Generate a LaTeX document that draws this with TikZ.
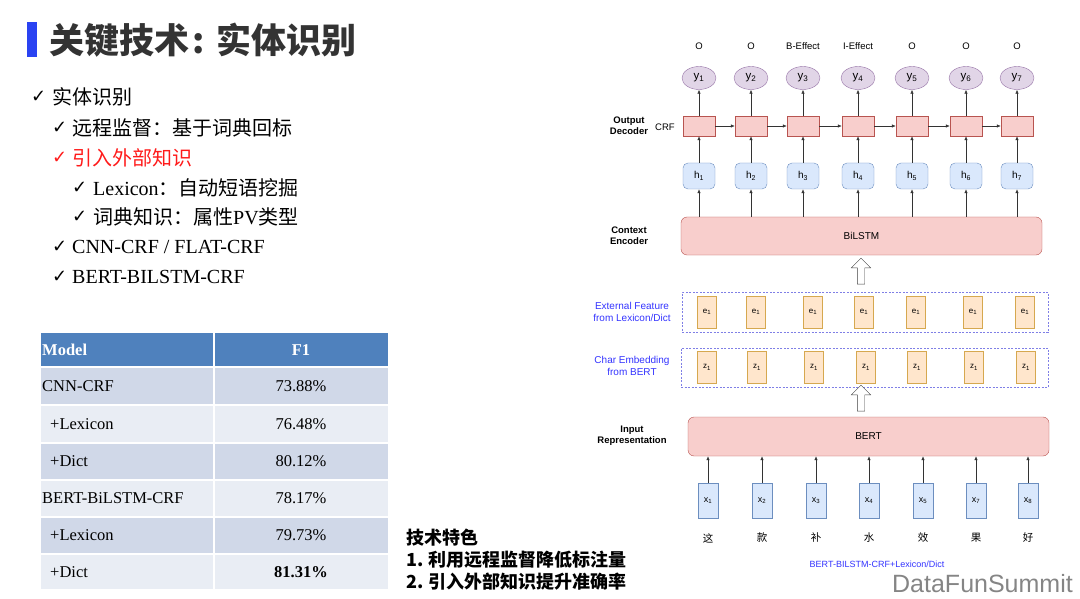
\documentclass[tikz,border=0pt]{standalone}
\usepackage{fontspec}
\setmainfont{Liberation Serif}
\newfontfamily\zhfont{Noto Sans CJK SC}
\newfontfamily\hfont{Liberation Sans}
\newfontfamily\symfont{DejaVu Sans}
\usetikzlibrary{arrows.meta, positioning, shapes.geometric, shapes.arrows}

\definecolor{barblue}{HTML}{2A43F2}
\definecolor{titlegray}{HTML}{333333}
\definecolor{hotred}{HTML}{FF1A1A}
\definecolor{headc}{HTML}{4F81BD}
\definecolor{rowa}{HTML}{D0D8E8}
\definecolor{rowb}{HTML}{E9EDF4}
\definecolor{yfill}{HTML}{E1D5E7}
\definecolor{ybd}{HTML}{9673A6}
\definecolor{crffill}{HTML}{F8CECC}
\definecolor{crfbd}{HTML}{B85450}
\definecolor{hfill}{HTML}{DAE8FC}
\definecolor{hbd}{HTML}{6C8EBF}
\definecolor{emfill}{HTML}{FFE6CC}
\definecolor{embd}{HTML}{D6A84F}
\definecolor{grpbd}{HTML}{7F7FE6}
\definecolor{lblue}{HTML}{3333FF}

\newcommand{\ck}{{\symfont ✓}}
\newcommand{\zh}[1]{{\zhfont #1}}

\begin{document}
\begin{tikzpicture}[
    x=1pt, y=-1pt,
    lbl/.style={font=\hfont\bfseries\fontsize{9.5}{11}\selectfont, align=center},
    tag/.style={font=\hfont\fontsize{9.5}{11}\selectfont},
    outnode/.style={ellipse, draw=ybd, fill=yfill, minimum width=34pt, minimum height=23pt, inner sep=0pt, font=\hfont\fontsize{11.5}{12}\selectfont},
    crfbox/.style={draw=crfbd, fill=crffill, minimum width=32pt, minimum height=20pt, inner sep=0pt},
    hbox/.style={draw=hbd, fill=hfill, rounded corners=5pt, minimum width=32pt, minimum height=26pt, inner sep=0pt, font=\hfont\fontsize{10}{12}\selectfont},
    embox/.style={draw=embd, fill=emfill, minimum width=19pt, minimum height=32pt, inner sep=0pt, font=\hfont\fontsize{8}{9}\selectfont},
    xbox/.style={draw=hbd, fill=hfill, minimum width=20pt, minimum height=35pt, inner sep=0pt, font=\hfont\fontsize{9}{10}\selectfont},
    layer/.style={draw=crfbd, fill=crffill, rounded corners=6pt, font=\hfont\fontsize{10}{12}\selectfont},
    group/.style={draw=grpbd, dash pattern=on 2pt off 1.5pt},
    side/.style={font=\hfont\fontsize{10}{12}\selectfont, text=lblue, align=center},
    arrow/.style={-{Latex[length=4pt,width=3.5pt]}, line width=0.6pt, draw=black!80},
    hollow/.style={single arrow, draw=black!75, fill=white, shape border rotate=90, minimum height=26pt, inner sep=3.5pt, single arrow head extend=6pt},
    item/.style={anchor=west, inner sep=0pt, font=\fontsize{20}{24}\selectfont},
    tick/.style={anchor=west, inner sep=0pt, font=\fontsize{18}{20}\selectfont},
    cell/.style={draw=white, line width=1.5pt},
    ctext/.style={inner sep=0pt, font=\fontsize{16.5}{18}\selectfont}
]
\useasboundingbox (0,0) rectangle (1080,599);

% title
\fill[barblue] (27,22) rectangle (37,57);
\node[anchor=west, inner sep=0pt, text=titlegray, font=\zhfont\bfseries\fontsize{35}{40}\selectfont] (title) at (49,40) {关键技术\hspace{3pt}:\hspace{12pt}实体识别};

% bullet list
\node[tick] (k1) at (31,97) {\ck};
\node[item] (l1) at (52,97) {\zh{实体识别}};
\node[tick] (k2) at (52,128) {\ck};
\node[item] (l2) at (72,128) {\zh{远程监督：基于词典回标}};
\node[tick, text=hotred] (k3) at (52,158) {\ck};
\node[item, text=hotred] (l3) at (72,158) {\zh{引入外部知识}};
\node[tick] (k4) at (72,188) {\ck};
\node[item] (l4) at (93,188) {Lexicon\zh{：自动短语挖掘}};
\node[tick] (k5) at (72,217) {\ck};
\node[item] (l5) at (93,217) {\zh{词典知识：属性}PV\zh{类型}};
\node[tick] (k6) at (52,247) {\ck};
\node[item] (l6) at (72,247) {CNN-CRF / FLAT-CRF};
\node[tick] (k7) at (52,277) {\ck};
\node[item] (l7) at (72,277) {BERT-BILSTM-CRF};

% results table
\foreach \ya/\yb/\sh in {332/367/headc, 367/405/rowa, 405/443/rowb, 443/480/rowa, 480/517/rowb, 517/554/rowa, 554/590/rowb} {
  \filldraw[cell, fill=\sh] (40,\ya) rectangle (214,\yb);
  \filldraw[cell, fill=\sh] (214,\ya) rectangle (389,\yb);
}
\node[ctext, anchor=west, text=white, font=\bfseries\fontsize{16.5}{18}\selectfont] (hmodel) at (42,350) {Model};
\node[ctext, text=white, font=\bfseries\fontsize{16.5}{18}\selectfont] (hf1) at (301,350) {F1};
\foreach \r/\yc/\lx/\name/\val in {1/386/42/CNN-CRF/73.88\%, 2/424/50/+Lexicon/76.48\%, 3/461.5/50/+Dict/80.12\%, 4/498.5/42/BERT-BiLSTM-CRF/78.17\%, 5/535.5/50/+Lexicon/79.73\%, 6/572/50/+Dict/\textbf{81.31\%}} {
  \node[ctext, anchor=west] (m\r) at (\lx,\yc) {\name};
  \node[ctext] (f\r) at (301,\yc) {\val};
}

% features
\node[anchor=west, inner sep=0pt, align=left, font=\zhfont\bfseries\fontsize{18}{22}\selectfont] (feat) at (406,560) {技术特色\\1. 利用远程监督降低标注量\\2. 引入外部知识提升准确率};

% model diagram: decoder
\foreach \i/\cx/\tg in {1/699/O, 2/751/O, 3/803/B-Effect, 4/858/I-Effect, 5/912/O, 6/966/O, 7/1017/O} {
  \node[tag] (t\i) at (\cx,46) {\tg};
  \node[outnode] (y\i) at (\cx,78) {y\textsubscript{\i}};
  \node[crfbox] (c\i) at (\cx,126) {};
  \node[hbox] (h\i) at (\cx,176) {h\textsubscript{\i}};
}
\node[layer, minimum width=361pt, minimum height=38pt] (bilstm) at (861.5,236) {BiLSTM};
\foreach \i in {1,...,7} {
  \draw[arrow] (c\i) -- (y\i);
  \draw[arrow] (h\i) -- (c\i);
  \draw[arrow] (h\i |- bilstm.north) -- (h\i);
}
\foreach \i/\j in {1/2, 2/3, 3/4, 4/5, 5/6, 6/7}
  \draw[arrow] (c\i) -- (c\j);
\node[lbl] (declbl) at (629,126) {Output\\Decoder};
\node[tag] (crflbl) at (665,127) {CRF};
\node[lbl] (enclbl) at (629,236) {Context\\Encoder};

% embeddings
\node[hollow] (up1) at (861,273) {};
\node[group, minimum width=366pt, minimum height=40pt] (ext) at (865,312) {};
\node[group, minimum width=367pt, minimum height=39pt] (chr) at (864.5,367.5) {};
\foreach \i/\ex/\zx in {1/707/707, 2/756/757, 3/813/814, 4/864/866, 5/916/917, 6/973/974, 7/1025/1026} {
  \node[embox] (e\i) at (\ex,312) {e\textsubscript{1}};
  \node[embox] (z\i) at (\zx,367.5) {z\textsubscript{1}};
}
\node[side] (extlbl) at (632,312) {External Feature\\from Lexicon/Dict};
\node[side] (chrlbl) at (632,366) {Char Embedding\\from BERT};
\node[hollow] (up2) at (861,400) {};

% input
\node[layer, minimum width=361pt, minimum height=39pt] (bert) at (868.5,436.5) {BERT};
\node[lbl] (inlbl) at (632,436) {Input\\Representation};
\foreach \i/\cx/\s/\ch in {1/708/1/这, 2/762/2/款, 3/816/3/补, 4/869/4/水, 5/923/5/效, 6/976/7/果, 7/1028/8/好} {
  \node[xbox] (x\i) at (\cx,500.5) {x\textsubscript{\s}};
  \node[font=\zhfont\fontsize{10.5}{12}\selectfont] (w\i) at (\cx,538) {\ch};
  \draw[arrow] (x\i) -- (x\i |- bert.south);
}
\node[side, font=\hfont\fontsize{9}{10}\selectfont] (cap) at (877,564) {BERT-BILSTM-CRF+Lexicon/Dict};

% watermark
\node[anchor=east, inner sep=0pt, text=black!48, font=\hfont\fontsize{25}{28}\selectfont] (brand) at (1073,584) {DataFunSummit};
\end{tikzpicture}
\end{document}
